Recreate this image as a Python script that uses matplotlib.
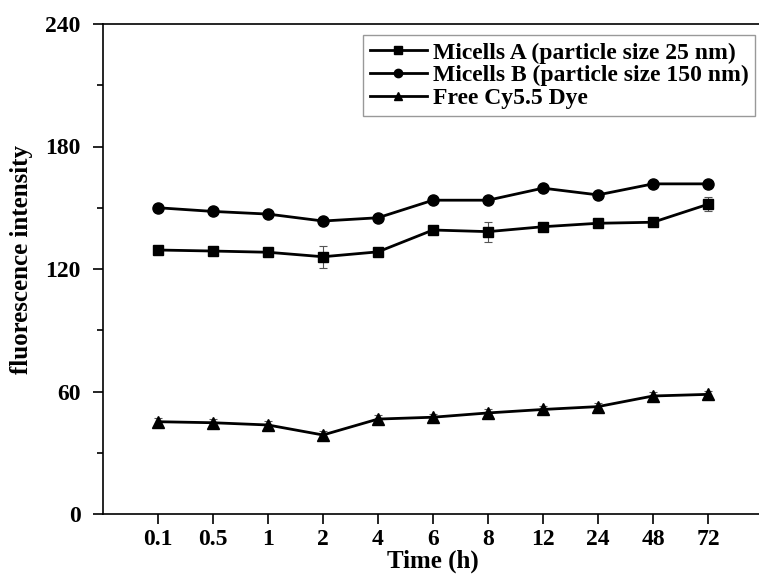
import numpy as np
import matplotlib
matplotlib.use("Agg")
import matplotlib.pyplot as plt
from matplotlib.ticker import FixedLocator

categories = ['0.1', '0.5', '1', '2', '4', '6', '8', '12', '24', '48', '72']
micelles_a = [129.3, 128.8, 128.2, 126.0, 128.4, 139.1, 138.3, 140.7, 142.4, 142.9, 151.7]
micelles_a_err = [1.0, 1.0, 1.0, 5.3, 1.2, 1.2, 4.9, 1.0, 1.0, 1.0, 3.4]
micelles_b = [150.0, 148.2, 146.9, 143.5, 145.1, 153.7, 153.7, 159.6, 156.3, 161.7, 161.7]
micelles_b_err = [1.0, 1.0, 1.0, 1.0, 1.2, 1.0, 1.0, 1.0, 1.0, 1.0, 1.0]
free_dye = [45.2, 44.7, 43.6, 38.7, 46.5, 47.4, 49.5, 51.2, 52.6, 57.8, 58.6]
free_dye_err = [1.8, 1.8, 1.8, 1.8, 1.8, 1.8, 1.8, 1.8, 1.8, 1.8, 1.8]
labels = ['Micells A (particle size 25 nm)',
          'Micells B (particle size 150 nm)',
          'Free Cy5.5 Dye']

plt.rcParams['font.family'] = ['Liberation Serif', 'DejaVu Serif']
plt.rcParams['font.weight'] = 'bold'

W, H = 759, 575
fig = plt.figure(figsize=(W / 100, H / 100), dpi=100)
right_px = 797
ax_w = right_px - 103
ax = fig.add_axes([103 / W, 61 / H, ax_w / W, 490 / H])

x = np.arange(len(categories))
series = [(micelles_a, micelles_a_err, 's', 7.5),
          (micelles_b, micelles_b_err, 'o', 8.0),
          (free_dye, free_dye_err, '^', 8.5)]
for (vals, errs, mk, ms), lab in zip(series, labels):
    ax.errorbar(x, vals, yerr=errs, fmt='none', ecolor='#555555',
                elinewidth=0.8, capsize=3, capthick=0.8, zorder=2)
    ax.plot(x, vals, color='black', lw=2.0, marker=mk, ms=ms,
            mfc='black', mec='black', label=lab, zorder=3)

ax.set_xlim(-1, (right_px - 158) / 55)
ax.set_ylim(0, 240)
ax.set_xticks(x)
ax.set_xticklabels(categories)
ax.set_yticks([0, 60, 120, 180, 240])
ax.yaxis.set_minor_locator(FixedLocator([30, 90, 150, 210]))

for s in ['left', 'bottom', 'top']:
    ax.spines[s].set_linewidth(1.2)
ax.spines['right'].set_visible(False)

ax.tick_params(axis='both', which='major', direction='out', length=7,
               width=1.2, labelsize=17, pad=4)
ax.tick_params(axis='y', which='major', pad=9)
ax.tick_params(axis='y', which='minor', direction='out', length=4, width=1.2)

ax.set_xlabel('Time (h)', fontsize=18, fontweight='bold')
ax.xaxis.set_label_coords((433 - 103) / ax_w, -0.072)
ax.set_ylabel('fluorescence intensity', fontsize=18, fontweight='bold')
ax.yaxis.set_label_coords(-(103 - 33) / ax_w, 0.52)

leg = ax.legend(loc='upper left', bbox_to_anchor=(363 / W, 1 - 35 / H),
                bbox_transform=fig.transFigure, frameon=True, fancybox=False,
                edgecolor='#808080', prop={'family': 'Liberation Serif',
                                           'weight': 'bold', 'size': 17},
                handlelength=2.4, handletextpad=0.25, labelspacing=0.05,
                borderpad=0.3, borderaxespad=0, markerscale=0.75)
leg.get_frame().set_linewidth(1.0)

fig.savefig('out.png', dpi=100)
